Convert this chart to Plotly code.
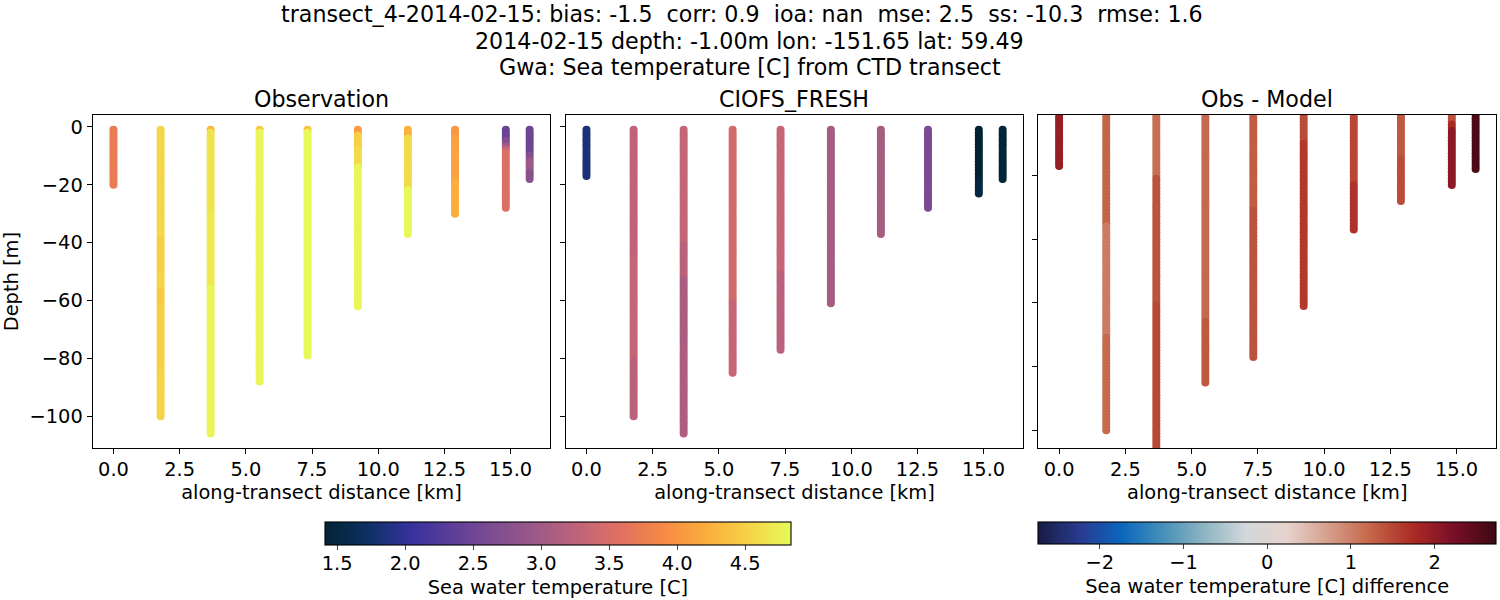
import plotly.graph_objects as go
import plotly.express as px

# distance of each CTD cast along the transect [km]
cast_km = [0.0, 1.78, 3.67, 5.52, 7.33, 9.23, 11.12, 12.9, 14.82, 15.72]

depth_grid = [-1,-2,-3,-4,-5,-6,-7,-8,-9,-10,-11,-12,-13,-14,-15,-16,-17,-18,-19,-20,
 -21,-22,-23,-24,-25,-26,-27,-28,-29,-30,-31,-32,-33,-34,-35,-36,-37,-38,-39,-40,
 -41,-42,-43,-44,-45,-46,-47,-48,-49,-50,-51,-52,-53,-54,-55,-56,-57,-58,-59,-60,
 -61,-62,-63,-64,-65,-66,-67,-68,-69,-70,-71,-72,-73,-74,-75,-76,-77,-78,-79,-80,
 -81,-82,-83,-84,-85,-86,-87,-88,-89,-90,-91,-92,-93,-94,-95,-96,-97,-98,-99,-100,
 -101,-102,-103,-104,-105,-106]

# Readings per cast as (value, number of 1 m bins), top to bottom
obs_temp = [
 [(3.72, 20)],
 [(4.55, 38), (4.5, 12), (4.54, 6), (4.47, 6), (4.5, 22), (4.54, 16)],
 [(4.3, 1), (4.66, 28), (4.7, 26), (4.8, 51)],
 [(4.45, 1), (4.8, 87)],
 [(4.38, 1), (4.82, 78)],
 [(4.05, 2), (4.48, 5), (4.58, 6), (4.8, 49)],
 [(4.25, 3), (4.58, 18), (4.83, 16)],
 [(4.0, 3), (4.12, 15), (4.22, 12)],
 [(2.45, 4), (2.7, 2), (3.0, 1), (3.3, 1), (3.55, 20)],
 [(2.5, 9), (2.7, 2), (2.95, 4), (2.75, 3)],
]

model_temp = [
 [(1.83, 17)],
 [(3.25, 45), (3.32, 35), (3.22, 20)],
 [(3.32, 40), (3.22, 12), (3.08, 24), (3.12, 30)],
 [(3.45, 60), (3.32, 25)],
 [(3.32, 50), (3.22, 27)],
 [(3.05, 61)],
 [(3.05, 37)],
 [(2.62, 28)],
 [(1.42, 18), (1.5, 5)],
 [(1.44, 18)],
]

diff_temp = [
 [(1.95, 17)],
 [(1.25, 35), (1.05, 35), (1.2, 30)],
 [(1.15, 20), (1.4, 40), (1.5, 46)],
 [(1.2, 65), (1.35, 20)],
 [(1.3, 30), (1.4, 47)],
 [(1.45, 9), (1.62, 52)],
 [(1.5, 22), (1.68, 15)],
 [(1.35, 14), (1.45, 14)],
 [(1.4, 3), (1.75, 2), (2.05, 18)],
 [(2.6, 18)],
]

x_ticks = [0, 2.5, 5, 7.5, 10, 12.5, 15]
depth_ticks = [0, -20, -40, -60, -80, -100]
diff_depth_ticks = [-20, -40, -60, -80, -100]
temp_ticks = [1.5, 2.0, 2.5, 3.0, 3.5, 4.0, 4.5]
diff_ticks = [-2, -1, 0, 1, 2]

title_lines = [
    "transect_4-2014-02-15: bias: -1.5  corr: 0.9  ioa: nan  mse: 2.5  ss: -10.3  rmse: 1.6",
    "2014-02-15 depth: -1.00m lon: -151.65 lat: 59.49",
    "Gwa: Sea temperature [C] from CTD transect",
]
panel_titles = ["Observation", "CIOFS_FRESH", "Obs - Model"]

W, H = 1500, 600
FONT = "DejaVu Sans"
BIG, SMALL = 22.2, 19.4
INK = "#000000"


def expand(runs_by_cast):
    xs, ys, cs = [], [], []
    for km, runs in zip(cast_km, runs_by_cast):
        i = 0
        for value, count in runs:
            for _ in range(count):
                xs.append(km)
                ys.append(depth_grid[i])
                cs.append(value)
                i += 1
    return xs, ys, cs


fig = go.Figure()
for idx, (data, cax) in enumerate(
    [(obs_temp, "coloraxis"), (model_temp, "coloraxis"), (diff_temp, "coloraxis2")], start=1
):
    xs, ys, cs = expand(data)
    fig.add_trace(go.Scatter(
        x=xs, y=ys, mode="markers", showlegend=False,
        xaxis="x" if idx == 1 else f"x{idx}", yaxis="y" if idx == 1 else f"y{idx}",
        marker=dict(size=8, color=cs, coloraxis=cax, line=dict(width=0)),
    ))

panels = [(92.7, 550.3), (565.7, 1023.3), (1038.3, 1496.3)]
top, bottom = 115.0, 448.3
common = dict(showgrid=False, zeroline=False, showline=True, mirror=True, linecolor=INK,
              linewidth=1.1, ticks="outside", ticklen=5, tickwidth=1.1, tickcolor=INK,
              tickfont=dict(family=FONT, size=SMALL, color=INK))
layout = dict(
    width=W, height=H, autosize=False, margin=dict(l=0, r=0, t=0, b=0, autoexpand=False),
    paper_bgcolor="white", plot_bgcolor="white", font=dict(family=FONT, size=SMALL, color=INK),
    coloraxis=dict(
        cmin=1.41, cmax=4.836, colorscale=px.colors.cmocean.thermal,
        colorbar=dict(orientation="h", lenmode="pixels", len=465.7, thicknessmode="pixels",
                      thickness=23, x=557.9 / W, xanchor="center", y=1 - 522.3 / H, yanchor="top",
                      xpad=0, ypad=0, outlinewidth=1.1, outlinecolor=INK, ticks="outside", ticklen=5,
                      tickwidth=1.1, tickvals=temp_ticks, ticktext=[f"{v:.1f}" for v in temp_ticks],
                      tickfont=dict(family=FONT, size=SMALL, color=INK),
                      title=dict(text="Sea water temperature [C]", side="bottom",
                                 font=dict(family=FONT, size=SMALL, color=INK))),
    ),
    coloraxis2=dict(
        cmin=-2.735, cmax=2.735, colorscale=px.colors.cmocean.balance,
        colorbar=dict(orientation="h", lenmode="pixels", len=458.3, thicknessmode="pixels",
                      thickness=22, x=1267.2 / W, xanchor="center", y=1 - 522.3 / H, yanchor="top",
                      xpad=0, ypad=0, outlinewidth=1.1, outlinecolor=INK, ticks="outside", ticklen=5,
                      tickwidth=1.1, tickvals=diff_ticks,
                      tickfont=dict(family=FONT, size=SMALL, color=INK),
                      title=dict(text="Sea water temperature [C] difference", side="bottom",
                                 font=dict(family=FONT, size=SMALL, color=INK))),
    ),
)
for i, (x0, x1) in enumerate(panels, start=1):
    s = "" if i == 1 else str(i)
    layout[f"xaxis{s}"] = dict(
        common, domain=[x0 / W, x1 / W], range=[-0.785, 16.5], anchor=f"y{s}",
        tickvals=x_ticks, ticktext=[f"{v:.1f}" for v in x_ticks], ticklabelstandoff=-2,
        title=dict(text="along-transect distance [km]", standoff=4,
                   font=dict(family=FONT, size=SMALL, color=INK)),
    )
    yax = dict(common, domain=[1 - bottom / H, 1 - top / H], anchor=f"x{s}")
    if i == 1:
        yax.update(range=[-111.1, 4.1], tickvals=depth_ticks,
                   title=dict(text="Depth [m]", standoff=6,
                              font=dict(family=FONT, size=SMALL, color=INK)))
    elif i == 2:
        yax.update(range=[-111.1, 4.1], tickvals=depth_ticks, showticklabels=False)
    else:
        yax.update(range=[-105.7, -1.0], tickvals=diff_depth_ticks, showticklabels=False)
    layout[f"yaxis{s}"] = yax

annotations = []
for text, cx, cy in zip(title_lines, [742, 749.5, 749.5], [14, 41, 67]):
    annotations.append(dict(text=text, x=cx / W, y=1 - cy / H, xref="paper", yref="paper",
                            xanchor="center", yanchor="middle", showarrow=False,
                            font=dict(family=FONT, size=BIG, color=INK)))
for text, (x0, x1) in zip(panel_titles, panels):
    annotations.append(dict(text=text, x=(x0 + x1) / 2 / W, y=1 - 99 / H, xref="paper", yref="paper",
                            xanchor="center", yanchor="middle", showarrow=False,
                            font=dict(family=FONT, size=BIG, color=INK)))
layout["annotations"] = annotations
fig.update_layout(**layout)

post = """
document.body.style.margin = '0';
function nudge(sel, dy) {
  document.querySelectorAll(sel).forEach(function (t) {
    t.setAttribute('transform', 'translate(0,' + dy + ') ' + (t.getAttribute('transform') || ''));
  });
}
nudge('.colorbar .cbaxis text', -3);
nudge('.colorbar .cbtitle text', -4);
"""
fig.write_html("out.html", config=dict(displayModeBar=False), post_script=post)
